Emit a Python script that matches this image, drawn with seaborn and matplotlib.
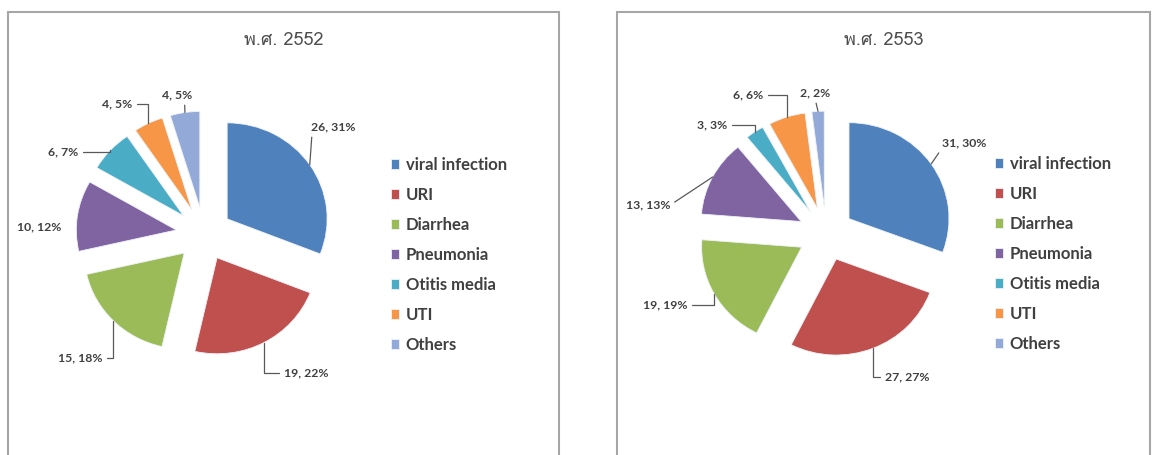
import matplotlib
matplotlib.use("Agg")
import matplotlib.pyplot as plt
from matplotlib import font_manager
from matplotlib.patches import Rectangle
import numpy as np
import seaborn as sns

# ---- data -------------------------------------------------------------
categories = ["viral infection", "URI", "Diarrhea", "Pneumonia",
              "Otitis media", "UTI", "Others"]
cases_2552 = [26, 19, 15, 10, 6, 4, 4]
pct_2552 = [31, 22, 18, 12, 7, 5, 5]
cases_2553 = [31, 27, 19, 13, 3, 6, 2]
pct_2553 = [30, 27, 19, 13, 3, 6, 2]
titles = ["พ.ศ. 2552", "พ.ศ. 2553"]
colors = ["#4F81BD", "#C0504D", "#9BBB59", "#8064A2",
          "#4BACC6", "#F79646", "#93A9D8"]

# ---- styling ----------------------------------------------------------
sns.set_theme(style="white")
palette = sns.color_palette(colors)


def thai_font():
    """Return the name of an installed family that can draw Thai."""
    try:
        from fontTools.ttLib import TTFont
    except Exception:
        return None
    seen = set()
    for f in font_manager.fontManager.ttflist:
        if f.fname in seen:
            continue
        seen.add(f.fname)
        try:
            tt = TTFont(f.fname, fontNumber=0, lazy=True)
            cmap = tt.getBestCmap() or {}
        except Exception:
            continue
        if 0x0E1E in cmap and 0x0E28 in cmap:
            return f.name
    return None


thai = thai_font()
base_family = ["Lato", "DejaVu Sans"]
title_family = ([thai] if thai else []) + ["DejaVu Sans"]
plt.rcParams["font.family"] = base_family

W, H = 1159, 455
TEXT = "#404040"
EXPLODE = 0.28
LABEL_SIZE = 8.8

# panel layout in pixels (x right, y down)
panels = [
    dict(values=cases_2552, pct=pct_2552, title=titles[0],
         box=(8, 559), center=(204, 234), rx=100, ry=96,
         title_x=284, legend=(391, 157),
         labels=[((333, 127), (0.03, 0.0), "line"),
                 ((306, 373), (0.0, 0.5), "elbow"),
                 ((80, 358), (1.0, 0.5), "elbow"),
                 ((39, 227), None, None),
                 ((63, 152), (1.0, 0.5), "elbow"),
                 ((117, 104), (1.0, 0.5), "elbow"),
                 ((177, 95), (0.75, 0.0), "line")]),
    dict(values=cases_2553, pct=pct_2553, title=titles[1],
         box=(617, 1150), center=(826, 234), rx=100, ry=96,
         title_x=884, legend=(995, 156),
         labels=[((964, 143), (0.0, 0.0), "line"),
                 ((907, 377), (0.0, 0.5), "elbow"),
                 ((665, 305), (1.0, 0.5), "elbow"),
                 ((648, 205), (1.0, 0.5), "line"),
                 ((712, 125), (1.0, 0.5), "elbow"),
                 ((748, 95), (1.0, 0.5), "elbow"),
                 ((815, 93), (0.5, 0.0), "line")]),
]

fig = plt.figure(figsize=(W / 100, H / 100), dpi=100)
fig.patch.set_facecolor("white")

for p in panels:
    cx, cy = p["center"]
    rx, ry = p["rx"], p["ry"]

    # chart frame (open at the bottom edge of the figure)
    x0, x1 = p["box"]
    fig.add_artist(Rectangle((x0 / W, -0.05), (x1 - x0) / W, 1.05 - 12 / H,
                             transform=fig.transFigure, fill=False,
                             edgecolor="#A6A6A6", linewidth=1.5))

    ax = fig.add_axes([0, 0, 1, 1])
    ax.patch.set_alpha(0)
    wedges, _ = ax.pie(p["values"], colors=palette, startangle=90,
                       counterclock=False, explode=[EXPLODE] * len(p["values"]),
                       radius=1,
                       wedgeprops=dict(linewidth=0.6, edgecolor="#EEF2F8"))
    ax.set_aspect("auto")
    ax.set_xlim(-cx / rx, (W - cx) / rx)
    ax.set_ylim((cy - H) / ry, cy / ry)
    ax.axis("off")

    def to_data(px, py):
        return (px - cx) / rx, (cy - py) / ry

    for w, n, pc, (pos, rel, kind) in zip(wedges, p["values"], p["pct"],
                                          p["labels"]):
        mid = np.deg2rad((w.theta1 + w.theta2) / 2)
        wx, wy = w.center
        tip = (wx + w.r * np.cos(mid), wy + w.r * np.sin(mid))
        text = f"{n}, {pc}%"
        tx, ty = to_data(*pos)
        if kind is None:
            ax.text(tx, ty, text, ha="center", va="center",
                    fontsize=LABEL_SIZE, fontweight="bold", color=TEXT)
            continue
        style = ("angle,angleA=0,angleB=90,rad=0" if kind == "elbow"
                 else "arc3,rad=0")
        ax.annotate(text, xy=tip, xytext=(tx, ty), ha="center", va="center",
                    fontsize=LABEL_SIZE, fontweight="bold", color=TEXT,
                    arrowprops=dict(arrowstyle="-", color="#595959", lw=0.9,
                                    relpos=rel, connectionstyle=style,
                                    shrinkA=1, shrinkB=0))

    fig.text(p["title_x"] / W, 1 - 40 / H, p["title"], ha="center",
             va="center", fontsize=13, color="#4D4D4D", family=title_family)

    lx, ly = p["legend"]
    ax.legend(wedges, categories, loc="upper left",
              bbox_to_anchor=(lx / W, 1 - ly / H),
              bbox_transform=fig.transFigure, frameon=False,
              prop=dict(family=base_family, weight="bold", size=12),
              labelcolor=TEXT, handlelength=0.48, handleheight=0.48,
              handletextpad=0.4, labelspacing=0.84, borderpad=0,
              borderaxespad=0)

fig.savefig("out.png", dpi=100, facecolor="white")
